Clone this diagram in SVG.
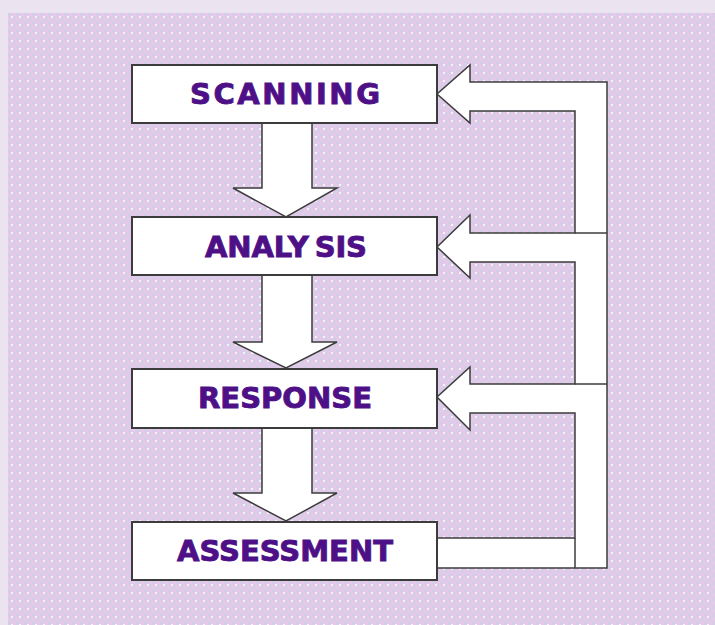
<svg xmlns="http://www.w3.org/2000/svg" width="715" height="625" viewBox="0 0 715 625">
  <defs>
    <pattern id="dots" x="8" y="13" width="8" height="8" patternUnits="userSpaceOnUse">
      <rect width="8" height="8" fill="#E6C9EA"/>
      <rect x="0" y="0" width="4" height="4" fill="#D6CDE6"/>
      <rect x="4" y="4" width="4" height="4" fill="#D6CDE6"/>
      <rect x="3" y="3" width="2" height="2" fill="#F6F2F8"/>
    </pattern>
    <style>
      .box { fill: #ffffff; stroke: #3c3c3c; stroke-width: 2; }
      .arrow { fill: #ffffff; stroke: #3c3c3c; stroke-width: 1.5; stroke-linejoin: miter; }
      .sep { fill: none; stroke: #3c3c3c; stroke-width: 1.5; }
      .label { font-family: "DejaVu Sans", "Liberation Sans", sans-serif; font-weight: bold; font-size: 29px; fill: #4E1086; stroke: #4E1086; stroke-width: 0.9; text-anchor: middle; }
    </style>
  </defs>

  <rect x="0" y="0" width="715" height="625" fill="#EBE3F0"/>
  <rect x="8" y="13" width="707" height="612" fill="url(#dots)"/>

  <g id="connectors">
    <!-- down arrows -->
    <polygon class="arrow" points="262,123 312,123 312,188 337,188 286,217 233,188 262,188"/>
    <polygon class="arrow" points="262,275 312,275 312,342 337,342 286,368 233,342 262,342"/>
    <polygon class="arrow" points="262,428 312,428 312,493 337,493 286,521 233,493 262,493"/>
    <!-- feedback loop -->
    <polygon class="arrow" points="437,538 575,538 575,413 470,413 470,430 437,397 470,367 470,384 575,384 575,262 470,262 470,278 437,247 470,215 470,233 575,233 575,111 470,111 470,123 437,94 470,65 470,82 607,82 607,568 437,568"/>
    <line class="sep" x1="575" y1="233" x2="607" y2="233"/>
    <line class="sep" x1="575" y1="384" x2="607" y2="384"/>
    <line class="sep" x1="575" y1="538" x2="575" y2="568"/>
  </g>

  <g id="scanning">
    <rect class="box" x="132" y="65" width="305" height="58"/>
    <text class="label" x="285" y="104" textLength="190" lengthAdjust="spacing">SCANNING</text>
  </g>
  <g id="analysis">
    <rect class="box" x="132" y="217" width="305" height="58"/>
    <text class="label" x="286" y="257" textLength="162" lengthAdjust="spacing">ANALY<tspan dx="6">SIS</tspan></text>
  </g>
  <g id="response">
    <rect class="box" x="132" y="369" width="305" height="59"/>
    <text class="label" x="285" y="408" textLength="174" lengthAdjust="spacing">RESPONSE</text>
  </g>
  <g id="assessment">
    <rect class="box" x="132" y="522" width="305" height="58"/>
    <text class="label" x="285" y="561" textLength="216" lengthAdjust="spacing">ASSESSMENT</text>
  </g>
</svg>
